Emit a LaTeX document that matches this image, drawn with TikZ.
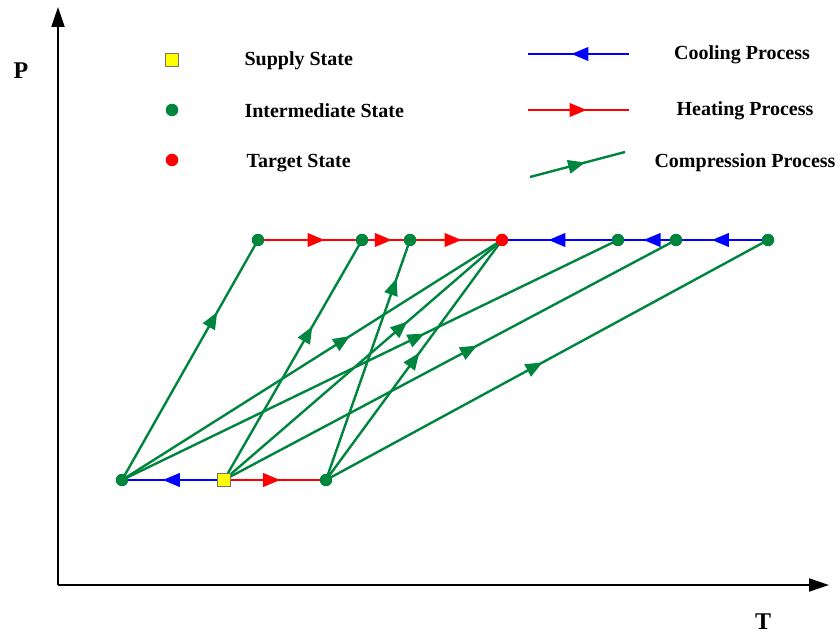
\documentclass[tikz,border=0pt]{standalone}
\usepackage{fontspec}
\setmainfont{Liberation Serif}
\usetikzlibrary{arrows.meta,decorations.markings,backgrounds}
\definecolor{cgreen}{RGB}{0,133,62}
\definecolor{cblue}{RGB}{0,0,255}
\definecolor{cred}{RGB}{255,0,0}
\definecolor{cyellow}{RGB}{255,255,0}
\tikzset{
  gdot/.style={circle,fill=cgreen,inner sep=0pt,minimum size=12.5pt},
  rdot/.style={circle,fill=cred,inner sep=0pt,minimum size=12.5pt},
  ysq/.style={rectangle,fill=cyellow,draw=black!55,line width=0.5pt,minimum size=13pt,inner sep=0pt},
  flow/.style 2 args={color=#1,line width=2.4pt,postaction={decorate},
    decoration={markings,mark=at position #2 with {\arrow{Triangle[length=17pt,width=13.5pt]}}}},
  axis/.style={line width=2pt,-{Triangle[length=20pt,width=13pt]}},
  legtext/.style={font=\fontsize{20}{24}\selectfont\bfseries},
  axlabel/.style={font=\fontsize{24}{28}\selectfont\bfseries}
}
\begin{document}
\begin{tikzpicture}[x=1pt,y=-1pt]
\useasboundingbox (0,0) rectangle (840,636);
% axes
\coordinate (O) at (58,585);
\coordinate (Ytop) at (58,7);
\coordinate (Xend) at (829,585);
\draw[axis] (O) -- (Ytop);
\draw[axis] (O) -- (Xend);
\node[axlabel] (Plab) at (21,71) {P};
\node[axlabel] (Tlab) at (763,622) {T};
% states
\node[gdot] (B1) at (122,480) {};
\node[ysq]  (B2) at (224,480) {};
\node[gdot] (B3) at (326,480) {};
\node[gdot] (T1) at (258,240) {};
\node[gdot] (T2) at (362,240) {};
\node[gdot] (T3) at (410,240) {};
\node[rdot] (T4) at (502,240) {};
\node[gdot] (T5) at (618,240) {};
\node[gdot] (T6) at (676,240) {};
\node[gdot] (T7) at (768,240) {};
\begin{scope}[on background layer]
% compression
\draw[flow={cgreen}{0.70}] (B1.center) -- (T1.center);
\draw[flow={cgreen}{0.64}] (B2.center) -- (T2.center);
\draw[flow={cgreen}{0.84}] (B3.center) -- (T3.center);
\draw[flow={cgreen}{0.60}] (B1.center) -- (T4.center);
\draw[flow={cgreen}{0.66}] (B2.center) -- (T4.center);
\draw[flow={cgreen}{0.53}] (B3.center) -- (T4.center);
\draw[flow={cgreen}{0.61}] (B1.center) -- (T5.center);
\draw[flow={cgreen}{0.56}] (B2.center) -- (T6.center);
\draw[flow={cgreen}{0.49}] (B3.center) -- (T7.center);
% heating
\draw[flow={cred}{0.64}] (T1.center) -- (T2.center);
\draw[flow={cred}{0.62}] (T2.center) -- (T3.center);
\draw[flow={cred}{0.56}] (T3.center) -- (T4.center);
\draw[flow={cred}{0.55}] (B2.center) -- (B3.center);
% cooling
\draw[flow={cblue}{0.61}] (T7.center) -- (T6.center);
\draw[flow={cblue}{0.56}] (T6.center) -- (T5.center);
\draw[flow={cblue}{0.60}] (T5.center) -- (T4.center);
\draw[flow={cblue}{0.60}] (B2.center) -- (B1.center);
\end{scope}
% legend
\node[ysq]  (LS) at (172,60) {};
\node[gdot] (LI) at (172,110) {};
\node[rdot] (LT) at (172,160) {};
\node[legtext,anchor=west] (LSt) at (241,61) {Supply State};
\node[legtext,anchor=west] (LIt) at (241,111) {Intermediate State};
\node[legtext,anchor=west] (LTt) at (243,163) {Target State};
\coordinate (LC1) at (528,54);
\coordinate (LC2) at (629,54);
\coordinate (LH1) at (528,110);
\coordinate (LH2) at (629,110);
\coordinate (LG1) at (530,177);
\coordinate (LG2) at (625,152);
\draw[flow={cblue}{0.57}] (LC2) -- (LC1);
\draw[flow={cred}{0.58}] (LH1) -- (LH2);
\draw[flow={cgreen}{0.58}] (LG1) -- (LG2);
\node[legtext] (LCt) at (742,55) {Cooling Process};
\node[legtext] (LHt) at (745,111) {Heating Process};
\node[legtext] (LGt) at (745,163) {Compression Process};
\end{tikzpicture}
\end{document}
